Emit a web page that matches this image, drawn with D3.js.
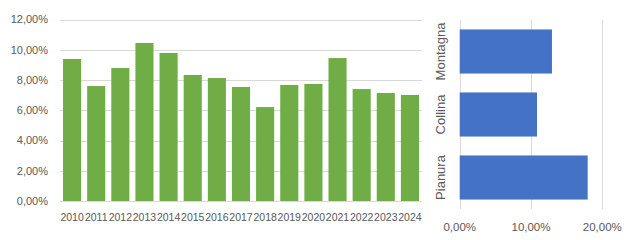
<!DOCTYPE html>
<html><head><meta charset="utf-8">
<script src="https://cdn.jsdelivr.net/npm/d3@7"></script>
<style>body{margin:0;background:#fff;} text{font-family:"Liberation Sans",Arial,sans-serif;fill:#595959;}</style>
</head><body>
<svg id="c" width="630" height="240"></svg>
<script>
const years = ["2010","2011","2012","2013","2014","2015","2016","2017","2018","2019","2020","2021","2022","2023","2024"];
const yearValues = [0.0939,0.0760,0.0879,0.1045,0.0979,0.0833,0.0813,0.0754,0.0621,0.0767,0.0774,0.0945,0.0740,0.0714,0.0701];
const yTicks = [0,0.02,0.04,0.06,0.08,0.10,0.12];
const zones = ["Montagna","Collina","Pianura"];
const zoneValues = [0.1294,0.1084,0.1795];
const xTicks = [0,0.10,0.20];

const fmt = v => d3.format(".2f")(v*100).replace(".", ",") + "%";
const svg = d3.select("#c");
const grid = "#d9d9d9";

// Left chart
const x1 = d3.scaleBand().domain(years).range([60, 422]).paddingInner(0.25).paddingOuter(0.125);
const y1 = d3.scaleLinear().domain([0, 0.12]).range([201, 19.5]);
const g1 = svg.append("g");
g1.selectAll("line.grid").data(yTicks).join("line")
  .attr("x1", 60).attr("x2", 422)
  .attr("y1", d => Math.round(y1(d)) + 0.5).attr("y2", d => Math.round(y1(d)) + 0.5)
  .attr("stroke", grid).attr("stroke-width", 1);
g1.selectAll("rect").data(years).join("rect")
  .attr("x", d => x1(d)).attr("width", x1.bandwidth())
  .attr("y", (d,i) => y1(yearValues[i])).attr("height", (d,i) => y1(0) - y1(yearValues[i]))
  .attr("fill", "#70ad47");
g1.selectAll("text.yl").data(yTicks).join("text")
  .attr("x", 48).attr("y", d => y1(d)).attr("dy", "0.35em")
  .attr("text-anchor", "end").attr("font-size", 11).text(fmt);
g1.selectAll("text.xl").data(years).join("text")
  .attr("x", d => x1(d) + x1.bandwidth()/2).attr("y", 217).attr("dy", "0.35em")
  .attr("text-anchor", "middle").attr("font-size", 10.5).text(d => d);

// Right chart
const x2 = d3.scaleLinear().domain([0, 0.20]).range([459.7, 602.3]);
const y2 = d3.scaleBand().domain(zones).range([20, 209]).paddingInner(0.3).paddingOuter(0.15);
const g2 = svg.append("g");
g2.selectAll("line").data(xTicks).join("line")
  .attr("x1", d => Math.round(x2(d)) + 0.5).attr("x2", d => Math.round(x2(d)) + 0.5)
  .attr("y1", 20).attr("y2", 209).attr("stroke", grid);
g2.selectAll("rect").data(zones).join("rect")
  .attr("x", x2(0)).attr("y", d => y2(d)).attr("height", y2.bandwidth())
  .attr("width", (d,i) => x2(zoneValues[i]) - x2(0))
  .attr("fill", "#4472c4");
g2.selectAll("text.xl").data(xTicks).join("text")
  .attr("x", d => x2(d)).attr("y", 227).attr("dy", "0.35em")
  .attr("text-anchor", "middle").attr("font-size", 11.5).text(fmt);
g2.selectAll("text.cl").data(zones).join("text")
  .attr("transform", d => `translate(440,${y2(d) + y2.bandwidth()/2}) rotate(-90)`)
  .attr("dy", "0.35em").attr("text-anchor", "middle").attr("font-size", 13).text(d => d);
</script>
</body></html>
